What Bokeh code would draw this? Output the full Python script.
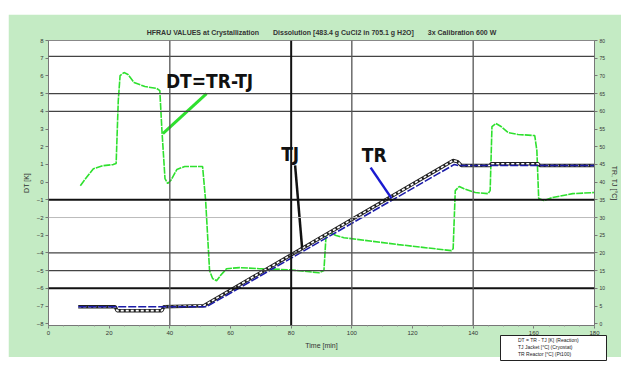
from bokeh.plotting import figure
from bokeh.layouts import column, row
from bokeh.models import (Range1d, LinearAxis, Span, Label, Legend, LegendItem,
                          FixedTicker, ColumnDataSource, Spacer)
from bokeh.embed import file_html
from bokeh.resources import INLINE

# ---------------- data ----------------
time_ticks = [0, 20, 40, 60, 80, 100, 120, 140, 160, 180]
time_minor = list(range(0, 181, 5))
dt_ticks = list(range(-8, 9))
temp_ticks = list(range(0, 81, 5))

# DT = TR - TJ  (left axis, K)
dt_time = [10.5, 12.5, 14.8, 18.0, 21.3, 22.3, 23.0, 23.6, 24.9, 26.2, 28.2, 31.8,
           35.7, 36.7, 37.4, 38.4, 39.3, 40.3, 42.3, 44.9, 50.8, 51.8, 53.1, 54.1,
           55.4, 56.7, 58.7, 63.0, 69.5, 79.3, 89.2, 90.8, 91.5, 92.8, 94.8, 97.4,
           115.4, 132.8, 133.4, 134.1, 135.4, 137.0, 140.7, 144.9, 145.6, 146.2,
           147.5, 149.2, 151.5, 154.8, 160.3, 161.0, 161.6, 163.3, 166.2, 172.8, 180.0]
dt_vals = [-0.20, 0.26, 0.76, 0.93, 0.99, 1.05, 4.6, 6.02, 6.19, 6.08, 5.63, 5.40,
           5.29, 5.17, 2.91, 0.20, -0.08, 0.09, 0.71, 0.88, 0.88, -1.04, -5.0, -5.45,
           -5.57, -5.28, -4.89, -4.83, -4.89, -4.95, -5.12, -5.0, -3.02, -2.85, -3.02, -3.14,
           -3.53, -3.87, -3.76, -0.48, -0.25, -0.37, -0.59, -0.65, -0.48, 3.14,
           3.31, 3.14, 2.80, 2.69, 2.63, 1.78, -0.93, -1.04, -0.87, -0.65, -0.59]

# TR reactor temperature (right axis, degC)
tr_time = [9.8, 52.1, 133.8, 135.1, 180.0]
tr_vals = [4.8, 4.8, 45.0, 44.7, 44.7]

# TJ jacket temperature (right axis, degC)
tj_time = [9.8, 22.0, 22.6, 37.4, 38.0, 51.2, 133.4, 134.8, 136.1, 145.6, 145.9,
           161.3, 162.0, 180.0]
tj_vals = [4.8, 4.8, 3.7, 3.7, 4.8, 5.1, 46.1, 45.8, 44.7, 44.7, 45.2,
           45.2, 44.7, 44.7]

# reference grid levels
hline_levels = [7.1, 5, 4, -1, -2, -4, -5, -6]
vline_times = [40, 80, 100, 140]

# annotations
dt_note_text = "DT=TR-TJ"
dt_note_pos = (38.7, 5.71)
dt_ptr_t = [37.7, 52.1]
dt_ptr_v = [2.74, 5.0]
tj_note_text = "TJ"
tj_note_pos = (76.7, 48.0)
tj_ptr_t = [81.3, 83.6]
tj_ptr_v = [44.7, 21.5]
tr_note_text = "TR"
tr_note_pos = (103.3, 47.6)
tr_ptr_t = [106.2, 113.1]
tr_ptr_v = [44.1, 35.4]

legend_labels = ["DT = TR - TJ [K] (Reaction)", "TJ Jacket [°C] (Cryostat)", "TR Reactor [°C] (Pt100)"]

title_text = ("HFRAU VALUES at Crystallization\u2003\u2003Dissolution [483.4 g CuCl2 in 705.1 g H2O]"
              "\u2003\u20033x Calibration 600 W")

# ---------------- figure ----------------
GREEN_BG = "#c4ebc4"
FONT = "Liberation Sans"
NOTE_FONT = "DejaVu Sans Condensed, DejaVu Sans, sans-serif"

p = figure(width=613, height=343, output_backend="svg", toolbar_location=None,
           x_range=Range1d(0, 180), y_range=Range1d(-8.1, 8),
           min_border_left=40, min_border_right=24, min_border_top=26, min_border_bottom=32)
p.margin = (14, 0, 0, 8)
p.extra_y_ranges = {"temp": Range1d(-0.5, 80)}
p.background_fill_color = "white"
p.border_fill_color = GREEN_BG
p.outline_line_color = "#888888"
p.xgrid.visible = False
p.ygrid.visible = False

p.title.text = title_text
p.title.align = "center"
p.title.text_font_size = "7px"
p.title.text_font = FONT
p.title.text_font_style = "bold"
p.title.text_color = "#333333"


def style_axis(ax):
    ax.major_label_text_font_size = "6px"
    ax.major_label_text_font = FONT
    ax.major_label_text_color = "#333333"
    ax.axis_label_text_font_size = "7px"
    ax.axis_label_text_font = FONT
    ax.axis_label_text_font_style = "normal"
    ax.axis_label_text_color = "#333333"
    ax.axis_line_color = "#777777"
    ax.major_tick_line_color = "#777777"
    ax.minor_tick_line_color = "#999999"
    ax.major_tick_out = 3
    ax.major_tick_in = 0
    ax.minor_tick_out = 1
    ax.minor_tick_in = 0
    ax.major_label_standoff = 2
    ax.axis_label_standoff = 4


p.xaxis.ticker = FixedTicker(ticks=time_ticks, minor_ticks=time_minor)
p.xaxis.axis_label = "Time [min]"
style_axis(p.xaxis[0])

p.yaxis.ticker = FixedTicker(ticks=dt_ticks)
p.yaxis.axis_label = "DT [K]"
style_axis(p.yaxis[0])

rax = LinearAxis(y_range_name="temp", ticker=FixedTicker(ticks=temp_ticks), axis_label="TR, TJ [°C]")
style_axis(rax)
rax.major_label_text_font_size = "5px"
rax.major_label_standoff = 2
rax.axis_label_standoff = 3
p.add_layout(rax, "right")

# grid reference lines
for lv in hline_levels:
    if lv in (-1, -6):
        p.add_layout(Span(location=lv, dimension="width", line_color="#111111", line_width=2))
    elif lv == -2:
        p.add_layout(Span(location=lv, dimension="width", line_color="#bbbbbb", line_width=1))
    else:
        p.add_layout(Span(location=lv, dimension="width", line_color="#444444", line_width=1.3))
for tv in vline_times:
    if tv == 80:
        p.add_layout(Span(location=tv, dimension="height", line_color="#111111", line_width=2))
    else:
        p.add_layout(Span(location=tv, dimension="height", line_color="#555555", line_width=1.3))

# series
src_dt = ColumnDataSource(dict(t=dt_time, v=dt_vals))
src_tr = ColumnDataSource(dict(t=tr_time, v=tr_vals))
src_tj = ColumnDataSource(dict(t=tj_time, v=tj_vals))

GREEN = "#2ee02e"
BLUE = "#1c1ca8"
p.line("t", "v", source=src_dt, line_color=GREEN, line_width=1.6, line_dash="7 1")
p.line("t", "v", source=src_tj, y_range_name="temp", line_color="#222222", line_width=3.5)
p.line("t", "v", source=src_tj, y_range_name="temp", line_color="white", line_width=1.6, line_dash="3 2")
p.line("t", "v", source=src_tr, y_range_name="temp", line_color=BLUE, line_width=1.6, line_dash="8 2")

# annotation pointers
p.line(dt_ptr_t, dt_ptr_v, line_color=GREEN, line_width=3)
p.line(tj_ptr_t, tj_ptr_v, y_range_name="temp", line_color="#111111", line_width=2.5)
p.line(tr_ptr_t, tr_ptr_v, y_range_name="temp", line_color="#1a1ad0", line_width=2.5)

for txt, pos, rng in [(dt_note_text, dt_note_pos, "default"),
                      (tj_note_text, tj_note_pos, "temp"),
                      (tr_note_text, tr_note_pos, "temp")]:
    p.add_layout(Label(x=pos[0], y=pos[1], y_range_name=rng, text=txt,
                       text_font=NOTE_FONT, text_font_size="19px", text_font_style="bold",
                       text_color="#111111", text_baseline="middle", text_align="left"))

# ---------------- legend box (overlapping the bottom band) ----------------
lg = figure(frame_width=107, frame_height=26, output_backend="svg", toolbar_location=None,
            x_axis_type=None, y_axis_type=None, title=None,
            min_border=0, min_border_left=0, min_border_right=0,
            min_border_top=0, min_border_bottom=0)
lg.background_fill_color = "white"
lg.border_fill_color = "white"
lg.outline_line_color = "#222222"
lg.xgrid.visible = False
lg.ygrid.visible = False
e1 = lg.line([], [], line_color=GREEN, line_width=1.6)
e2a = lg.line([], [], line_color="#666666", line_width=2.5)
e2b = lg.line([], [], line_color="white", line_width=1.2)
e3 = lg.line([], [], line_color=BLUE, line_width=1.6, line_dash="1 3")
legend = Legend(items=[LegendItem(label=legend_labels[0], renderers=[e1]),
                       LegendItem(label=legend_labels[1], renderers=[e2a, e2b]),
                       LegendItem(label=legend_labels[2], renderers=[e3])],
                location="top_left")
legend.label_text_font_size = "5px"
legend.label_text_font = FONT
legend.label_text_color = "#222222"
legend.label_height = 7
legend.glyph_height = 7
legend.glyph_width = 14
legend.spacing = 0
legend.padding = 1
legend.margin = 1
legend.label_standoff = 3
legend.border_line_color = None
legend.background_fill_alpha = 0
lg.add_layout(legend, "center")

bottom = row(Spacer(width=500, height=26), lg)
bottom.margin = (-22, 0, 0, 0)
bottom.spacing = 0

page = column(p, bottom)
page.margin = 0
page.spacing = 0

open("out.html", "w").write(file_html(page, INLINE))
